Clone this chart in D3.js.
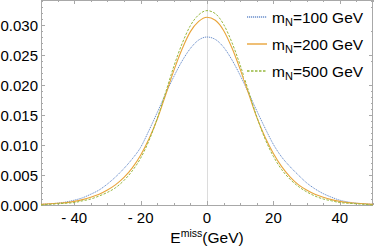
<!DOCTYPE html>
<html lang="en">
<head>
    <meta charset="UTF-8">
    <title>Emiss</title>
    <script src="https://d3js.org/d3.v7.min.js"></script>
    <style>
        body { margin: 0; background: #fff; }
        text { font-family: "Liberation Sans", Arial, sans-serif; }
    </style>
</head>
<body>
    <svg id="chart"></svg>
    <script>
        // E miss values, 2.5 GeV steps from -50 to 50
        const energy = d3.range(-50, 50.1, 2.5);
        const mN100 = [0.0001, 0.0002, 0.0003, 0.0005, 0.0008, 0.0012, 0.0018, 0.0025, 0.0035, 0.0047,
            0.0061, 0.0077, 0.0096, 0.0124, 0.0154, 0.0185, 0.0214, 0.0240, 0.0261, 0.0275,
            0.0280,
            0.0276, 0.0263, 0.0242, 0.0216, 0.0187, 0.0157, 0.0128, 0.0101, 0.0080, 0.0064,
            0.0050, 0.0037, 0.0027, 0.0019, 0.0013, 0.0008, 0.0005, 0.0003, 0.0002, 0.0001];
        const mN200 = [0.0001, 0.0002, 0.0003, 0.0004, 0.0006, 0.0009, 0.0013, 0.0018, 0.0025, 0.0034,
            0.0046, 0.0062, 0.0083, 0.0110, 0.0143, 0.0183, 0.0224, 0.0260, 0.0289, 0.0306,
            0.0313,
            0.0308, 0.0291, 0.0262, 0.0226, 0.0186, 0.0146, 0.0113, 0.0086, 0.0064, 0.0047,
            0.0034, 0.0025, 0.0018, 0.0013, 0.0009, 0.0006, 0.0004, 0.0003, 0.0002, 0.0001];
        const mN500 = [0.0000, 0.0001, 0.0002, 0.0003, 0.0004, 0.0007, 0.0010, 0.0015, 0.0021, 0.0029,
            0.0041, 0.0057, 0.0078, 0.0107, 0.0144, 0.0187, 0.0231, 0.0269, 0.0299, 0.0317,
            0.0324,
            0.0319, 0.0301, 0.0271, 0.0233, 0.0190, 0.0147, 0.0110, 0.0081, 0.0059, 0.0043,
            0.0031, 0.0022, 0.0015, 0.0010, 0.0007, 0.0004, 0.0003, 0.0002, 0.0001, 0.0000];
        const xTicks = [-40, -20, 0, 20, 40];
        const yTicks = [0, 0.005, 0.010, 0.015, 0.020, 0.025, 0.030];
        const seriesNames = ["100", "200", "500"];

        const width = 374, height = 248;
        const mLeft = 41, mRight = 373, mTop = 0, mBottom = 205;

        const x = d3.scaleLinear().domain([-50, 50]).range([mLeft, mRight]);
        const y = d3.scaleLinear().domain([0, 0.03417]).range([mBottom, mTop]);

        const svg = d3.select("#chart").attr("width", width).attr("height", height);

        const frameColor = "#a8a8a8";

        // grid line at zero
        svg.append("line")
            .attr("x1", Math.round(x(0)) + 0.5).attr("x2", Math.round(x(0)) + 0.5)
            .attr("y1", y.range()[0]).attr("y2", y.range()[1])
            .attr("stroke", "#dcdcdc").attr("stroke-width", 1);

        // frame
        svg.append("rect")
            .attr("x", mLeft + 0.5).attr("y", mTop + 0.5)
            .attr("width", mRight - mLeft - 1).attr("height", mBottom - mTop)
            .attr("fill", "none").attr("stroke", frameColor).attr("stroke-width", 1);

        // x ticks (top and bottom)
        const xMinor = d3.range(-50, 51, 5);
        xMinor.forEach(v => {
            const len = v % 20 === 0 ? 4 : 2;
            const px = Math.round(x(v)) + 0.5;
            svg.append("line").attr("x1", px).attr("x2", px)
                .attr("y1", mBottom).attr("y2", mBottom - len)
                .attr("stroke", frameColor);
            svg.append("line").attr("x1", px).attr("x2", px)
                .attr("y1", mTop).attr("y2", mTop + len)
                .attr("stroke", frameColor);
        });

        // y ticks (left and right)
        d3.range(0, 35).forEach(i => {
            const v = i * 0.001;
            const len = i % 5 === 0 ? 4 : 2;
            const py = Math.round(y(v)) + 0.5;
            svg.append("line").attr("x1", mLeft).attr("x2", mLeft + len)
                .attr("y1", py).attr("y2", py).attr("stroke", frameColor);
            svg.append("line").attr("x1", mRight).attr("x2", mRight - len)
                .attr("y1", py).attr("y2", py).attr("stroke", frameColor);
        });

        // tick labels
        svg.selectAll(".ylab").data(yTicks).join("text")
            .attr("x", 38).attr("y", d => y(d) + 5.5)
            .attr("text-anchor", "end").attr("font-size", 15).attr("fill", "#000")
            .text(d => d.toFixed(3));

        svg.selectAll(".xlab").data(xTicks).join("text")
            .attr("x", d => x(d)).attr("y", 222.5)
            .attr("text-anchor", "middle").attr("font-size", 15).attr("fill", "#000")
            .text(d => d < 0 ? "- " + Math.abs(d) : d);

        // axis label
        const xl = svg.append("text").attr("x", x(0)).attr("y", 242.5)
            .attr("text-anchor", "middle").attr("font-size", 15.5);
        xl.append("tspan").text("E");
        xl.append("tspan").attr("font-size", 10.5).attr("dy", -6).text("miss");
        xl.append("tspan").attr("dy", 6).text("(GeV)");

        // curves
        const series = [
            { name: seriesNames[0], values: mN100, color: "#6B8FCC", dash: "1.2,0.8", w: 1 },
            { name: seriesNames[1], values: mN200, color: "#E9A43A", dash: null, w: 1.1 },
            { name: seriesNames[2], values: mN500, color: "#97B83F", dash: "2.5,1.5", w: 1 }
        ];

        const line = d3.line()
            .x((d, i) => x(energy[i]))
            .y(d => y(d))
            .curve(d3.curveMonotoneX);

        series.forEach(s => {
            svg.append("path")
                .datum(s.values)
                .attr("d", line)
                .attr("fill", "none")
                .attr("stroke", s.color)
                .attr("stroke-width", s.w)
                .attr("stroke-dasharray", s.dash);
        });

        // legend
        const legendY = [17, 44, 71];
        series.forEach((s, i) => {
            const g = svg.append("g").attr("transform", `translate(247,${legendY[i]})`);
            g.append("rect").attr("x", -3).attr("y", -9).attr("width", 128).attr("height", 18).attr("fill", "#fff");
            g.append("line").attr("x1", 0).attr("x2", 20).attr("y1", 0).attr("y2", 0)
                .attr("stroke", s.color).attr("stroke-width", s.w + 0.3)
                .attr("stroke-dasharray", s.dash);
            const t = g.append("text").attr("x", 25).attr("y", 5.5).attr("font-size", 15.5);
            t.append("tspan").text("m");
            t.append("tspan").attr("font-size", 11).attr("dy", 3).text("N");
            t.append("tspan").attr("dy", -3).text("=" + s.name + " GeV");
        });
    </script>
</body>
</html>
